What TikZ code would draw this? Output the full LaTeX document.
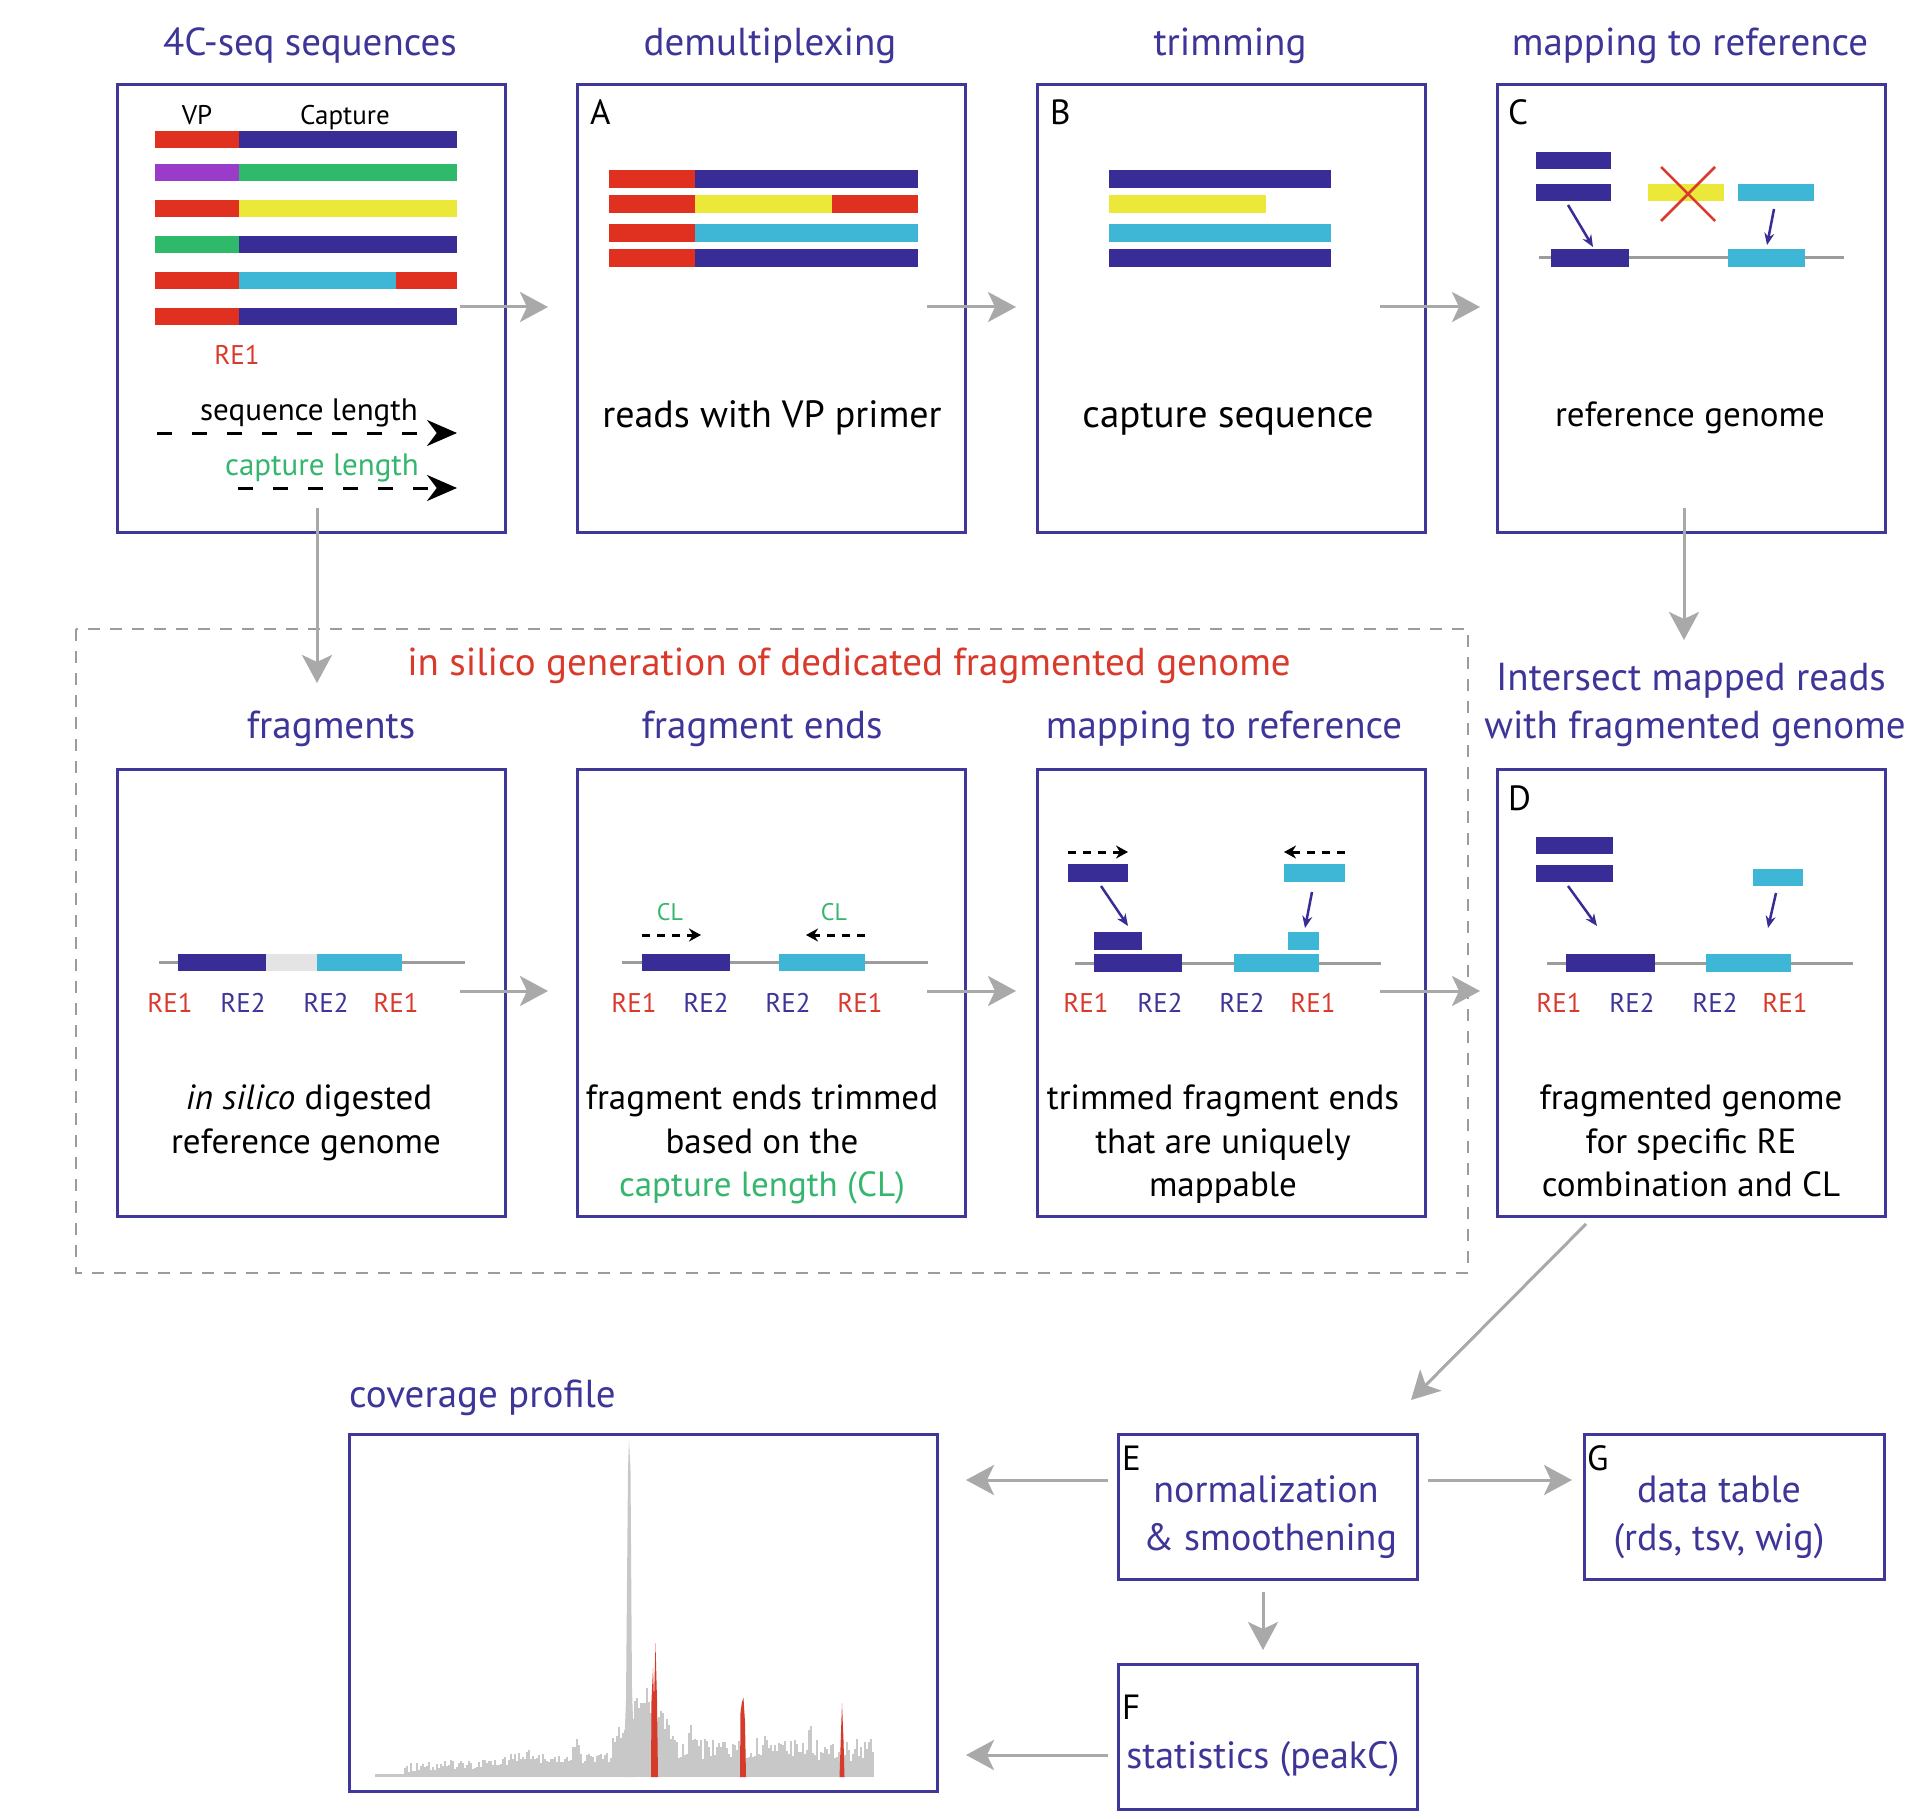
\documentclass[tikz,border=0pt]{standalone}
\usepackage{fontspec}
\setmainfont{PT Sans}
\usetikzlibrary{arrows.meta}
\definecolor{frame}{HTML}{3F3899}
\definecolor{ttl}{HTML}{3D3597}
\definecolor{dblue}{HTML}{382C96}
\definecolor{sred}{HTML}{E0301F}
\definecolor{syel}{HTML}{EBE83A}
\definecolor{scyan}{HTML}{3DB7D5}
\definecolor{sgreen}{HTML}{2FB96A}
\definecolor{spurp}{HTML}{9A3CC9}
\definecolor{agray}{HTML}{A9A9A9}
\definecolor{tred}{HTML}{D93A2C}
\definecolor{tgreen}{HTML}{35B66F}
\definecolor{lgray}{HTML}{E4E4E4}
\definecolor{hgray}{HTML}{C8C8C8}
\definecolor{pred}{HTML}{D63A2A}
\definecolor{dgray}{HTML}{9C9C9C}
\newcommand\sbar[5]{\fill[#1] (#2,#4-#5) rectangle (#3,#4+#5);}
\begin{document}
\begin{tikzpicture}[x=1pt,y=-1pt,
  box/.style={draw=frame,line width=3pt,minimum width=388pt,minimum height=448pt,inner sep=0pt,anchor=north west},
  sbox/.style={draw=frame,line width=3pt,inner sep=0pt,anchor=north west},
  ttl/.style={text=ttl,font=\fontsize{39}{46}\selectfont,anchor=base,inner sep=0pt},
  body/.style={text=black,font=\fontsize{35}{44}\selectfont,anchor=base,inner sep=0pt},
  btxt/.style={text=ttl,font=\fontsize{38}{46}\selectfont,anchor=base,inner sep=0pt},
  lett/.style={text=black,font=\fontsize{35}{40}\selectfont,anchor=base west,inner sep=0pt},
  rel/.style={text=tred,font=\fontsize{27}{30}\selectfont,anchor=base,inner sep=0pt},
  reb/.style={text=ttl,font=\fontsize{27}{30}\selectfont,anchor=base,inner sep=0pt},
  cl/.style={text=tgreen,font=\fontsize{24}{28}\selectfont,anchor=base,inner sep=0pt},
  garrow/.style={draw=agray,line width=3pt,-{Stealth[length=28pt,width=30pt,inset=7pt]}},
  barrow/.style={draw=dblue,line width=2.5pt,-{Stealth[length=12pt,width=10pt]}},
  sdash/.style={draw=black,line width=3pt,dash pattern=on 8pt off 7pt,-{Stealth[length=12pt,width=13pt]}},
  bdash/.style={draw=black,line width=3pt,dash pattern=on 15pt off 20pt,-{Stealth[length=30pt,width=26pt]}},
  gline/.style={draw=dgray,line width=3pt},
]
\fill[white] (0,0) rectangle (1920,1819);
\useasboundingbox (0,0) rectangle (1920,1819);

% dashed region
\draw[dgray,line width=2.5pt,dash pattern=on 12pt off 10pt] (76,629) rectangle (1468,1273);

% boxes
\node[box] (seq) at (116,83) {};
\node[box] (demux) at (576,83) {};
\node[box] (trim) at (1036,83) {};
\node[box] (mapC) at (1496,83) {};
\node[box,minimum height=447pt] (frag) at (116,768) {};
\node[box,minimum height=447pt] (fends) at (576,768) {};
\node[box,minimum height=447pt] (mapB) at (1036,768) {};
\node[box,minimum height=447pt] (fgD) at (1496,768) {};
\node[sbox,minimum width=588pt,minimum height=357pt] (cov) at (348,1433) {};
\node[sbox,minimum width=299pt,minimum height=145pt] (normE) at (1117,1433) {};
\node[sbox,minimum width=300pt,minimum height=145pt] (tabG) at (1583,1433) {};
\node[sbox,minimum width=299pt,minimum height=145pt] (statF) at (1117,1663) {};

% titles
\node[ttl] (t1) at (310,56) {4C-seq sequences};
\node[ttl] (t2) at (770,56) {demultiplexing};
\node[ttl] (t3) at (1230,56) {trimming};
\node[ttl] (t4) at (1690,56) {mapping to reference};
\node[ttl,text=tred] (tsil) at (849,675) {in silico generation of dedicated fragmented genome};
\node[ttl] (t5) at (331,738) {fragments};
\node[ttl] (t6) at (762,738) {fragment ends};
\node[ttl] (t7) at (1224,738) {mapping to reference};
\node[ttl] (t8a) at (1691,690) {Intersect mapped reads};
\node[ttl] (t8b) at (1695,738) {with fragmented genome};
\node[ttl,anchor=base west] (t9) at (349,1407) {coverage profile};

% ---- box 1: sequences
\node[text=black,font=\fontsize{27}{30}\selectfont,anchor=base,inner sep=0pt] (vp) at (197,125) {VP};
\node[text=black,font=\fontsize{27}{30}\selectfont,anchor=base,inner sep=0pt] (capt) at (345,125) {Capture};
\sbar{sred}{155}{239}{140}{8.5}\sbar{dblue}{239}{457}{140}{8.5}
\sbar{spurp}{155}{239}{173}{8.5}\sbar{sgreen}{239}{457}{173}{8.5}
\sbar{sred}{155}{239}{209}{8.5}\sbar{syel}{239}{457}{209}{8.5}
\sbar{sgreen}{155}{239}{245}{8.5}\sbar{dblue}{239}{457}{245}{8.5}
\sbar{sred}{155}{239}{281}{8.5}\sbar{scyan}{239}{396}{281}{8.5}\sbar{sred}{396}{457}{281}{8.5}
\sbar{sred}{155}{239}{317}{8.5}\sbar{dblue}{239}{457}{317}{8.5}
\node[rel] (re1a) at (237,364) {RE1};
\node[text=black,font=\fontsize{31}{34}\selectfont,anchor=base,inner sep=0pt] (slen) at (309,420) {sequence length};
\coordinate (sl1) at (157,433); \coordinate (sl2) at (457,433);
\draw[bdash] (sl1) -- (sl2);
\node[text=tgreen,font=\fontsize{31}{34}\selectfont,anchor=base,inner sep=0pt] (clen) at (322,475) {capture length};
\coordinate (cl1) at (238,488); \coordinate (cl2) at (457,488);
\draw[bdash] (cl1) -- (cl2);

% ---- box A
\node[lett] (la) at (590,125) {A};
\sbar{sred}{609}{695}{179}{9}\sbar{dblue}{695}{918}{179}{9}
\sbar{sred}{609}{695}{204}{9}\sbar{syel}{695}{832}{204}{9}\sbar{sred}{832}{918}{204}{9}
\sbar{sred}{609}{695}{233}{9}\sbar{scyan}{695}{918}{233}{9}
\sbar{sred}{609}{695}{258}{9}\sbar{dblue}{695}{918}{258}{9}
\node[body,font=\fontsize{38}{44}\selectfont] (ta) at (772,427) {reads with VP primer};

% ---- box B
\node[lett] (lb) at (1050,125) {B};
\sbar{dblue}{1109}{1331}{179}{9}
\sbar{syel}{1109}{1266}{204}{9}
\sbar{scyan}{1109}{1331}{233}{9}
\sbar{dblue}{1109}{1331}{258}{9}
\node[body,font=\fontsize{39}{44}\selectfont] (tb) at (1228,427) {capture sequence};

% ---- box C
\node[lett] (lc) at (1508,125) {C};
\sbar{dblue}{1536}{1611}{161}{8.5}
\sbar{dblue}{1536}{1611}{193}{8.5}
\sbar{syel}{1648}{1724}{193}{8.5}
\sbar{scyan}{1738}{1814}{193}{8.5}
\draw[tred,line width=2.5pt] (1661,167) -- (1715,221) (1715,167) -- (1661,221);
\draw[gline] (1539,258) -- (1844,258);
\sbar{dblue}{1551}{1629}{258}{9}
\sbar{scyan}{1728}{1805}{258}{9}
\coordinate (ca1) at (1568,205); \coordinate (ca2) at (1593,247);
\coordinate (cb1) at (1774,209); \coordinate (cb2) at (1767,245);
\draw[barrow] (ca1) -- (ca2);
\draw[barrow] (cb1) -- (cb2);
\node[body] (tc) at (1690,426) {reference genome};

% ---- fragments
\draw[gline] (159,962) -- (465,962);
\sbar{dblue}{178}{266}{962}{8.5}
\sbar{lgray}{266}{317}{962}{8.5}
\sbar{scyan}{317}{402}{962}{8.5}
\node[rel] (f1) at (170,1012) {RE1};
\node[reb] (f2) at (243,1012) {RE2};
\node[reb] (f3) at (326,1012) {RE2};
\node[rel] (f4) at (396,1012) {RE1};
\node[body] (tf1) at (309,1109) {\textit{in silico} digested};
\node[body] (tf2) at (306,1153) {reference genome};

% ---- fragment ends
\draw[gline] (622,962) -- (928,962);
\sbar{dblue}{642}{730}{962}{8.5}
\sbar{scyan}{779}{865}{962}{8.5}
\node[cl] (cla) at (670,920) {CL};
\node[cl] (clb) at (834,920) {CL};
\coordinate (fa1) at (642,935); \coordinate (fa2) at (701,935);
\coordinate (fb1) at (865,935); \coordinate (fb2) at (806,935);
\draw[sdash] (fa1) -- (fa2);
\draw[sdash] (fb1) -- (fb2);
\node[rel] (e1) at (634,1012) {RE1};
\node[reb] (e2) at (706,1012) {RE2};
\node[reb] (e3) at (788,1012) {RE2};
\node[rel] (e4) at (860,1012) {RE1};
\node[body] (te1) at (762,1109) {fragment ends trimmed};
\node[body] (te2) at (762,1153) {based on the};
\node[body,text=tgreen] (te3) at (762,1196) {capture length (CL)};

% ---- mapping B
\draw[gline] (1075,963) -- (1381,963);
\sbar{dblue}{1094}{1182}{963}{9}
\sbar{scyan}{1234}{1319}{963}{9}
\sbar{dblue}{1094}{1142}{941}{9}
\sbar{scyan}{1288}{1319}{941}{9}
\sbar{dblue}{1068}{1128}{873}{9}
\sbar{scyan}{1284}{1345}{873}{9}
\coordinate (ma1) at (1068,852); \coordinate (ma2) at (1128,852);
\coordinate (mb1) at (1345,852); \coordinate (mb2) at (1284,852);
\draw[sdash] (ma1) -- (ma2);
\draw[sdash] (mb1) -- (mb2);
\coordinate (mc1) at (1101,886); \coordinate (mc2) at (1128,926);
\coordinate (md1) at (1312,892); \coordinate (md2) at (1305,928);
\draw[barrow] (mc1) -- (mc2);
\draw[barrow] (md1) -- (md2);
\node[rel] (m1) at (1086,1012) {RE1};
\node[reb] (m2) at (1160,1012) {RE2};
\node[reb] (m3) at (1242,1012) {RE2};
\node[rel] (m4) at (1313,1012) {RE1};
\node[body] (tm1) at (1223,1109) {trimmed fragment ends};
\node[body] (tm2) at (1223,1153) {that are uniquely};
\node[body] (tm3) at (1223,1196) {mappable};

% ---- D
\node[lett] (ld) at (1508,810) {D};
\sbar{dblue}{1536}{1613}{845}{8.5}
\sbar{dblue}{1536}{1613}{873}{8.5}
\sbar{scyan}{1753}{1803}{877}{8.5}
\draw[gline] (1547,963) -- (1853,963);
\sbar{dblue}{1566}{1655}{963}{9}
\sbar{scyan}{1706}{1791}{963}{9}
\coordinate (da1) at (1568,886); \coordinate (da2) at (1597,926);
\coordinate (db1) at (1776,893); \coordinate (db2) at (1768,928);
\draw[barrow] (da1) -- (da2);
\draw[barrow] (db1) -- (db2);
\node[rel] (d1) at (1559,1012) {RE1};
\node[reb] (d2) at (1632,1012) {RE2};
\node[reb] (d3) at (1715,1012) {RE2};
\node[rel] (d4) at (1785,1012) {RE1};
\node[body] (td1) at (1691,1109) {fragmented genome};
\node[body] (td2) at (1691,1153) {for specific RE};
\node[body] (td3) at (1691,1196) {combination and CL};

% ---- coverage profile
\fill[hgray] (375,1777) rectangle (405,1774);
\pgfmathsetseed{12}
\foreach \x in {405,407,...,873}{
  \pgfmathsetmacro\h{(\x<610) ? (5+9*(\x-405)/205+10*rnd+25*max(0,1-abs(\x-577)/6)+8*max(0,1-abs(\x-525)/25)) : (16+55*max(0,1-abs(\x-645)/35)+22*rnd+28*max(0,1-abs(\x-690)/3)+20*max(0,1-abs(\x-810)/4)+12*max(0,1-abs(\x-770)/15))}
  \fill[hgray] (\x-1.1,1777) rectangle (\x+1.1,1777-\h);
}
\fill[hgray] (623,1777) -- (626,1700) -- (628,1470) -- (629,1440) -- (630.5,1470) -- (632,1690) -- (635,1777) -- cycle;
\fill[pred] (651,1777) -- (651.5,1700) -- (653,1668) -- (654,1700) -- (655.5,1643) -- (657,1700) -- (658,1777) -- cycle;
\fill[pred] (740,1777) -- (740.5,1712) -- (742,1702) -- (743.5,1698) -- (745,1722) -- (746,1777) -- cycle;
\fill[pred] (839.5,1777) -- (841,1732) -- (842,1703) -- (843.5,1740) -- (844.5,1777) -- cycle;

% ---- E, F, G
\node[lett] (le) at (1122,1470) {E};
\node[btxt] (te1b) at (1266,1502) {normalization};
\node[btxt] (te2b) at (1270,1550) {\& smoothening};
\node[lett] (lg) at (1587,1470) {G};
\node[btxt] (tg1) at (1719,1502) {data table};
\node[btxt] (tg2) at (1719,1550) {(rds, tsv, wig)};
\node[lett] (lf) at (1122,1719) {F};
\node[btxt] (tf) at (1263,1768) {statistics (peakC)};

% ---- gray arrows
\coordinate (g1a) at (460,307); \coordinate (g1b) at (548,307);
\coordinate (g2a) at (927,307); \coordinate (g2b) at (1016,307);
\coordinate (g3a) at (1380,307); \coordinate (g3b) at (1480,307);
\coordinate (g4a) at (460,991); \coordinate (g4b) at (548,991);
\coordinate (g5a) at (927,991); \coordinate (g5b) at (1016,991);
\coordinate (g6a) at (1380,991); \coordinate (g6b) at (1480,991);
\coordinate (v1a) at (317,508); \coordinate (v1b) at (317,683);
\coordinate (v2a) at (1684,508); \coordinate (v2b) at (1684,640);
\coordinate (dga) at (1586,1224); \coordinate (dgb) at (1411,1400);
\coordinate (ela) at (1108,1480); \coordinate (elb) at (966,1480);
\coordinate (era) at (1428,1480); \coordinate (erb) at (1572,1480);
\coordinate (eda) at (1263,1592); \coordinate (edb) at (1263,1650);
\coordinate (fla) at (1108,1755); \coordinate (flb) at (966,1755);
\foreach \a/\b in {g1a/g1b,g2a/g2b,g3a/g3b,g4a/g4b,g5a/g5b,g6a/g6b,v1a/v1b,v2a/v2b,dga/dgb,ela/elb,era/erb,eda/edb,fla/flb}
  \draw[garrow] (\a) -- (\b);
\end{tikzpicture}
\end{document}
